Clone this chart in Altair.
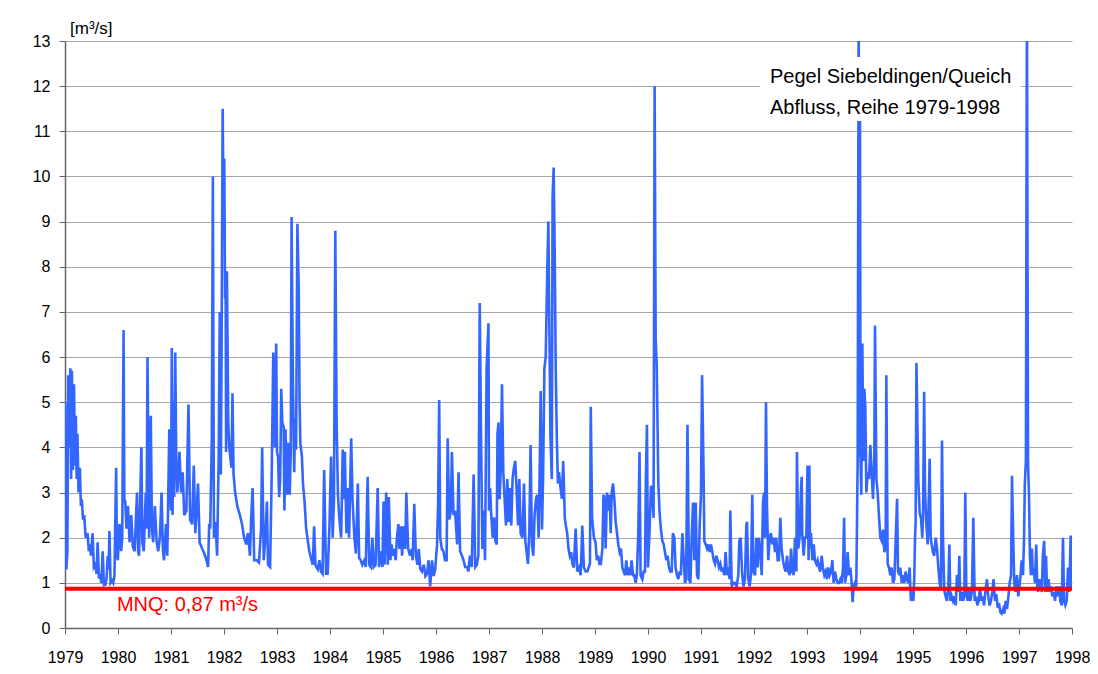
import altair as alt
import pandas as pd

# ---- data (fractional year, discharge m³/s) ----
seg_1979_1980 = [
    (1979.000, 1.5), (1979.005, 5.0), (1979.015, 2.3), (1979.025, 1.3), (1979.045, 1.7), (1979.06, 5.6),
    (1979.075, 4.0), (1979.10, 5.75), (1979.115, 3.3), (1979.13, 5.7), (1979.15, 3.5), (1979.17, 5.4),
    (1979.19, 3.6), (1979.205, 4.7), (1979.22, 3.3), (1979.235, 4.3), (1979.255, 3.0), (1979.28, 3.55),
    (1979.30, 2.7), (1979.317, 2.85), (1979.34, 2.4), (1979.362, 2.5), (1979.39, 2.0), (1979.425, 2.1),
    (1979.45, 1.7), (1979.47, 1.85), (1979.489, 1.6), (1979.52, 2.1), (1979.545, 1.35), (1979.571, 1.4),
    (1979.595, 1.2), (1979.616, 1.9), (1979.64, 1.1), (1979.66, 1.2), (1979.685, 1.0), (1979.711, 1.7),
    (1979.735, 0.95), (1979.762, 0.96), (1979.785, 1.1), (1979.806, 1.6), (1979.825, 1.3), (1979.838, 2.15),
    (1979.86, 1.0), (1979.889, 1.05), (1979.91, 1.0), (1979.933, 1.15), (1979.965, 3.55), (1979.98, 1.6),
    (1979.997, 1.5), (1980.029, 2.3), (1980.06, 1.7), (1980.08, 2.0), (1980.105, 6.6), (1980.12, 2.8),
    (1980.137, 2.8), (1980.16, 2.2), (1980.187, 2.7), (1980.219, 1.9), (1980.25, 2.5), (1980.28, 1.8),
    (1980.314, 1.7), (1980.359, 3.0), (1980.38, 1.7), (1980.397, 1.6), (1980.441, 4.0), (1980.46, 1.9),
    (1980.486, 1.7), (1980.524, 3.0), (1980.54, 2.2), (1980.556, 6.0), (1980.587, 2.0), (1980.619, 4.7),
    (1980.64, 2.2), (1980.663, 1.9), (1980.695, 2.7), (1980.73, 1.9), (1980.759, 1.7), (1980.79, 2.0),
    (1980.822, 3.0), (1980.845, 1.8), (1980.867, 1.5), (1980.905, 2.3), (1980.93, 1.6), (1980.968, 4.4),
    (1980.985, 3.0),
]
seg_1981_1982 = [
    (1981.00, 2.6), (1981.015, 6.2), (1981.03, 2.5), (1981.04, 5.0), (1981.06, 2.9), (1981.08, 6.1),
    (1981.10, 3.7), (1981.12, 3.0), (1981.16, 3.9), (1981.19, 3.0), (1981.22, 3.45), (1981.25, 2.5),
    (1981.29, 2.6), (1981.33, 4.95), (1981.36, 2.4), (1981.40, 2.3), (1981.43, 3.6), (1981.46, 2.1),
    (1981.51, 3.2), (1981.54, 1.9), (1981.59, 1.75), (1981.63, 1.65), (1981.67, 1.5), (1981.70, 1.35),
    (1981.72, 2.3), (1981.74, 2.2), (1981.77, 4.2), (1981.79, 10.0), (1981.81, 2.0), (1981.84, 2.35),
    (1981.87, 1.6), (1981.90, 3.8), (1981.92, 7.0), (1981.94, 3.4), (1981.955, 6.3), (1981.975, 11.5),
    (1981.99, 9.2), (1982.005, 10.4), (1982.02, 7.3), (1982.03, 7.9), (1982.04, 3.9), (1982.055, 7.9),
    (1982.08, 4.55), (1982.10, 4.0), (1982.14, 3.55), (1982.16, 5.2), (1982.18, 3.4), (1982.21, 3.0),
    (1982.25, 2.7), (1982.30, 2.5), (1982.34, 2.3), (1982.38, 2.0), (1982.42, 1.85), (1982.45, 2.1),
    (1982.49, 1.6), (1982.51, 2.35), (1982.54, 3.1), (1982.57, 1.5), (1982.62, 1.5), (1982.66, 1.45),
    (1982.70, 2.2), (1982.72, 4.0), (1982.75, 1.5), (1982.78, 2.0), (1982.81, 2.8), (1982.83, 1.4),
    (1982.87, 1.35), (1982.90, 3.4), (1982.93, 6.1), (1982.96, 4.0), (1982.985, 6.3),
]
seg_1983_1984 = [
    (1983.00, 3.9), (1983.02, 3.8), (1983.04, 2.9), (1983.06, 3.3), (1983.08, 5.3), (1983.10, 4.55),
    (1983.125, 4.45), (1983.14, 2.6), (1983.16, 4.4), (1983.19, 2.95), (1983.21, 4.1), (1983.24, 2.95),
    (1983.26, 3.9), (1983.275, 9.1), (1983.30, 5.5), (1983.325, 3.45), (1983.34, 4.65), (1983.36, 3.95),
    (1983.385, 8.95), (1983.41, 7.5), (1983.425, 5.05), (1983.44, 4.1), (1983.47, 3.8), (1983.49, 3.2),
    (1983.52, 2.8), (1983.55, 2.2), (1983.58, 1.95), (1983.61, 1.7), (1983.64, 1.55), (1983.675, 1.4),
    (1983.70, 2.25), (1983.725, 1.4), (1983.77, 1.3), (1983.80, 1.5), (1983.83, 1.25), (1983.86, 1.2),
    (1983.89, 3.5), (1983.925, 1.2), (1983.955, 1.2), (1983.99, 2.25), (1984.02, 3.8), (1984.05, 2.0),
    (1984.075, 2.85), (1984.10, 8.8), (1984.125, 4.55), (1984.15, 2.95), (1984.175, 2.45), (1984.21, 2.0),
    (1984.24, 3.95), (1984.26, 2.85), (1984.28, 3.9), (1984.31, 2.1), (1984.34, 3.1), (1984.36, 2.0),
    (1984.40, 4.2), (1984.425, 2.85), (1984.46, 2.0), (1984.49, 1.65), (1984.525, 3.2), (1984.55, 1.55),
    (1984.58, 1.5), (1984.61, 1.4), (1984.65, 1.5), (1984.675, 1.35), (1984.71, 3.35), (1984.74, 1.4),
    (1984.77, 1.35), (1984.80, 2.0), (1984.825, 1.35), (1984.86, 1.4), (1984.90, 3.1), (1984.925, 1.35),
    (1984.96, 1.7), (1984.99, 1.35),
]
seg_1985_1986 = [
    (1985.01, 2.8), (1985.03, 1.4), (1985.06, 3.0), (1985.09, 1.4), (1985.11, 2.9), (1985.14, 1.5),
    (1985.16, 1.85), (1985.19, 1.6), (1985.21, 1.75), (1985.24, 1.5), (1985.26, 1.95), (1985.29, 2.3),
    (1985.31, 1.75), (1985.34, 2.25), (1985.36, 1.6), (1985.39, 2.25), (1985.42, 1.75), (1985.44, 3.0),
    (1985.475, 1.75), (1985.51, 1.6), (1985.54, 1.75), (1985.56, 1.5), (1985.59, 2.75), (1985.62, 1.6),
    (1985.65, 1.4), (1985.675, 1.75), (1985.705, 1.3), (1985.735, 1.25), (1985.77, 1.4), (1985.80, 1.15),
    (1985.83, 1.2), (1985.86, 1.5), (1985.89, 0.92), (1985.925, 1.5), (1985.955, 1.15), (1985.985, 1.3),
    (1986.02, 1.85), (1986.04, 2.75), (1986.06, 5.05), (1986.08, 2.0), (1986.11, 1.75), (1986.14, 1.7),
    (1986.17, 1.5), (1986.20, 1.5), (1986.22, 4.2), (1986.25, 2.4), (1986.28, 2.6), (1986.30, 3.9),
    (1986.33, 2.5), (1986.36, 2.6), (1986.40, 1.85), (1986.425, 3.45), (1986.455, 1.7), (1986.49, 1.6),
    (1986.52, 1.5), (1986.55, 1.35), (1986.59, 1.35), (1986.61, 1.25), (1986.64, 1.6), (1986.675, 1.35),
    (1986.71, 3.4), (1986.74, 1.35), (1986.77, 1.4), (1986.80, 1.6), (1986.825, 7.2), (1986.85, 4.2),
    (1986.875, 1.75), (1986.90, 2.6), (1986.925, 1.5), (1986.955, 5.75), (1986.99, 6.75),
]
seg_1987_1988 = [
    (1987.00, 2.6), (1987.02, 3.1), (1987.04, 2.55), (1987.07, 2.0), (1987.095, 2.45), (1987.12, 1.93),
    (1987.145, 1.85), (1987.16, 4.3), (1987.18, 4.55), (1987.20, 2.85), (1987.22, 3.45), (1987.245, 5.4),
    (1987.27, 3.45), (1987.295, 2.85), (1987.32, 2.27), (1987.345, 3.3), (1987.37, 2.35), (1987.395, 3.1),
    (1987.42, 2.27), (1987.445, 3.3), (1987.47, 3.55), (1987.495, 3.7), (1987.52, 3.1), (1987.547, 2.27),
    (1987.572, 3.3), (1987.597, 2.1), (1987.63, 2.0), (1987.66, 3.2), (1987.685, 1.93), (1987.71, 1.68),
    (1987.735, 1.42), (1987.76, 2.1), (1987.785, 4.05), (1987.81, 1.85), (1987.836, 1.6), (1987.86, 2.5),
    (1987.887, 2.86), (1987.91, 2.95), (1987.937, 2.0), (1987.96, 3.8), (1987.975, 5.25), (1988.00, 2.18),
    (1988.02, 3.3), (1988.045, 5.75), (1988.07, 6.0), (1988.10, 7.95), (1988.12, 9.0), (1988.135, 7.1),
    (1988.16, 4.2), (1988.185, 3.3), (1988.20, 9.55), (1988.22, 10.2), (1988.24, 8.3), (1988.26, 5.65),
    (1988.28, 4.2), (1988.30, 3.2), (1988.32, 3.45), (1988.35, 3.1), (1988.375, 2.86), (1988.40, 3.7),
    (1988.43, 2.44), (1988.45, 2.27), (1988.475, 2.1), (1988.50, 1.76), (1988.525, 1.6), (1988.55, 1.68),
    (1988.575, 1.42), (1988.60, 1.34), (1988.635, 2.2), (1988.665, 1.25), (1988.70, 1.34), (1988.73, 1.17),
    (1988.76, 2.27), (1988.79, 1.34), (1988.825, 1.25), (1988.855, 1.25), (1988.88, 1.34), (1988.905, 1.42),
    (1988.92, 4.9), (1988.945, 2.44), (1988.98, 2.0),
]
seg_1989_1990 = [
    (1989.01, 1.9), (1989.035, 1.5), (1989.06, 1.6), (1989.085, 1.42), (1989.11, 1.42), (1989.14, 1.76),
    (1989.16, 2.95), (1989.18, 2.86), (1989.20, 1.76), (1989.226, 3.0), (1989.25, 2.6), (1989.277, 2.95),
    (1989.296, 2.1), (1989.315, 3.0), (1989.34, 3.2), (1989.365, 2.86), (1989.39, 2.35), (1989.415, 2.1),
    (1989.44, 1.85), (1989.465, 1.68), (1989.49, 1.76), (1989.516, 1.34), (1989.54, 1.25), (1989.566, 1.17),
    (1989.59, 1.5), (1989.616, 1.17), (1989.64, 1.34), (1989.667, 1.17), (1989.69, 1.5), (1989.717, 1.17),
    (1989.74, 1.17), (1989.767, 1.0), (1989.79, 1.17), (1989.817, 2.1), (1989.84, 3.9), (1989.86, 1.17),
    (1989.893, 1.08), (1989.918, 1.25), (1989.943, 1.25), (1989.96, 3.3), (1989.98, 4.5), (1990.00, 1.34),
    (1990.03, 2.18), (1990.057, 3.15), (1990.08, 3.0), (1990.105, 2.44), (1990.125, 12.0), (1990.145, 6.4),
    (1990.165, 5.8), (1990.195, 3.2), (1990.22, 2.52), (1990.245, 2.18), (1990.27, 1.93), (1990.296, 1.85),
    (1990.32, 1.68), (1990.346, 1.5), (1990.37, 1.6), (1990.396, 1.34), (1990.42, 1.25), (1990.447, 1.25),
    (1990.47, 2.1), (1990.497, 2.0), (1990.52, 1.34), (1990.547, 1.17), (1990.57, 1.08), (1990.598, 1.25),
    (1990.62, 1.17), (1990.648, 2.1), (1990.67, 1.6), (1990.698, 1.0), (1990.72, 1.08), (1990.745, 4.5),
    (1990.774, 1.08), (1990.80, 1.0), (1990.824, 2.0), (1990.85, 2.78), (1990.875, 1.5), (1990.90, 2.78),
    (1990.925, 1.17), (1990.95, 1.08), (1990.975, 2.27), (1991.00, 2.95),
]
seg_1991_1992 = [
    (1991.02, 5.6), (1991.035, 4.5), (1991.05, 3.3), (1991.063, 1.93), (1991.088, 1.85), (1991.113, 1.76),
    (1991.138, 1.85), (1991.164, 1.68), (1991.189, 1.85), (1991.214, 1.68), (1991.239, 1.5), (1991.264, 1.42),
    (1991.289, 1.6), (1991.314, 1.5), (1991.34, 1.34), (1991.365, 1.42), (1991.39, 1.25), (1991.415, 1.34),
    (1991.44, 1.17), (1991.465, 1.68), (1991.49, 1.17), (1991.516, 1.34), (1991.54, 1.08), (1991.553, 2.6),
    (1991.579, 0.92), (1991.61, 1.0), (1991.64, 1.0), (1991.673, 0.92), (1991.704, 1.17), (1991.723, 1.93),
    (1991.748, 2.0), (1991.774, 1.25), (1991.80, 0.92), (1991.83, 1.08), (1991.855, 2.27), (1991.868, 2.35),
    (1991.893, 1.08), (1991.918, 0.92), (1991.943, 1.17), (1991.968, 2.95), (1991.987, 1.25), (1992.02, 1.17),
    (1992.044, 2.0), (1992.07, 1.34), (1992.094, 2.0), (1992.12, 1.68), (1992.145, 1.17), (1992.17, 2.78),
    (1992.19, 3.0), (1992.208, 2.0), (1992.226, 5.0), (1992.245, 2.7), (1992.27, 1.5), (1992.296, 2.0),
    (1992.32, 2.1), (1992.346, 1.85), (1992.37, 2.0), (1992.396, 1.68), (1992.42, 2.0), (1992.447, 1.5),
    (1992.47, 1.5), (1992.497, 2.44), (1992.52, 1.76), (1992.547, 1.5), (1992.572, 1.34), (1992.597, 1.25),
    (1992.623, 1.6), (1992.648, 1.25), (1992.673, 1.17), (1992.70, 1.76), (1992.723, 1.25), (1992.748, 1.17),
    (1992.774, 2.0), (1992.80, 1.25), (1992.81, 3.9), (1992.836, 1.76), (1992.86, 2.0), (1992.887, 3.1),
    (1992.90, 3.35), (1992.91, 2.1), (1992.937, 1.6), (1992.962, 2.0), (1992.987, 2.0),
]
seg_1993_1994 = [
    (1993.01, 3.6), (1993.03, 1.5), (1993.045, 3.6), (1993.057, 1.76), (1993.075, 2.1), (1993.10, 1.5),
    (1993.126, 1.85), (1993.15, 1.5), (1993.176, 1.42), (1993.20, 1.5), (1993.226, 1.34), (1993.25, 1.25),
    (1993.277, 1.6), (1993.30, 1.34), (1993.327, 1.17), (1993.352, 1.25), (1993.377, 1.08), (1993.40, 1.34),
    (1993.428, 1.17), (1993.453, 1.25), (1993.478, 1.5), (1993.503, 1.0), (1993.528, 1.25), (1993.553, 1.08),
    (1993.579, 1.0), (1993.604, 1.0), (1993.629, 1.08), (1993.654, 1.0), (1993.68, 1.34), (1993.70, 2.44),
    (1993.717, 1.0), (1993.742, 1.17), (1993.767, 1.68), (1993.792, 1.17), (1993.818, 1.34), (1993.843, 1.0),
    (1993.86, 0.57), (1993.88, 0.92), (1993.906, 1.0), (1993.93, 0.92), (1993.956, 3.7), (1993.975, 14.0),
    (1993.99, 3.8), (1994.0, 11.3), (1994.01, 3.7), (1994.025, 2.95), (1994.044, 6.3), (1994.063, 3.7),
    (1994.082, 5.3), (1994.10, 4.9), (1994.12, 3.0), (1994.145, 3.45), (1994.17, 3.3), (1994.195, 4.05),
    (1994.22, 3.45), (1994.245, 2.86), (1994.27, 3.7), (1994.283, 6.7), (1994.31, 3.3), (1994.333, 3.0),
    (1994.36, 2.44), (1994.384, 2.0), (1994.41, 1.93), (1994.434, 2.18), (1994.46, 1.68), (1994.484, 1.76),
    (1994.497, 5.6), (1994.522, 1.42), (1994.547, 1.34), (1994.572, 1.17), (1994.597, 1.34), (1994.623, 1.0),
    (1994.648, 1.08), (1994.673, 1.93), (1994.70, 2.86), (1994.717, 1.25), (1994.742, 1.17), (1994.76, 1.34),
    (1994.786, 1.0), (1994.81, 1.17), (1994.836, 1.0), (1994.86, 1.25), (1994.887, 1.08), (1994.91, 1.0),
    (1994.937, 1.34), (1994.95, 0.83), (1994.962, 0.6), (1994.987, 0.83),
]
seg_1995_1996 = [
    (1995.006, 0.6), (1995.013, 0.75), (1995.025, 1.17), (1995.038, 2.0), (1995.05, 2.35), (1995.065, 5.87),
    (1995.10, 3.3), (1995.126, 2.54), (1995.15, 2.44), (1995.176, 2.0), (1995.19, 2.54), (1995.21, 5.23),
    (1995.226, 3.1), (1995.25, 2.35), (1995.277, 1.85), (1995.30, 2.95), (1995.314, 3.75), (1995.333, 2.0),
    (1995.352, 1.85), (1995.377, 1.68), (1995.40, 1.6), (1995.428, 2.0), (1995.453, 1.76), (1995.478, 1.34),
    (1995.503, 1.0), (1995.528, 0.83), (1995.547, 4.15), (1995.566, 2.0), (1995.59, 0.83), (1995.616, 0.7),
    (1995.64, 0.6), (1995.667, 0.92), (1995.686, 1.85), (1995.704, 0.6), (1995.73, 0.7), (1995.755, 0.6),
    (1995.78, 0.7), (1995.805, 0.5), (1995.83, 1.17), (1995.855, 0.8), (1995.874, 1.6), (1995.893, 0.6),
    (1995.918, 0.8), (1995.943, 0.6), (1995.968, 0.7), (1995.987, 3.0), (1996.006, 0.8), (1996.03, 0.6),
    (1996.057, 0.9), (1996.08, 0.6), (1996.113, 0.8), (1996.138, 2.44), (1996.164, 0.6), (1996.19, 0.7),
    (1996.214, 0.5), (1996.24, 0.6), (1996.264, 0.9), (1996.29, 0.6), (1996.314, 0.7), (1996.34, 0.5),
    (1996.365, 0.8), (1996.396, 1.08), (1996.42, 0.7), (1996.447, 0.5), (1996.47, 0.6), (1996.497, 0.8),
    (1996.52, 1.08), (1996.547, 0.6), (1996.572, 0.75), (1996.597, 0.45), (1996.623, 0.55), (1996.648, 0.35),
    (1996.673, 0.32), (1996.70, 0.42), (1996.723, 0.32), (1996.748, 0.6), (1996.774, 0.42), (1996.80, 0.7),
    (1996.824, 1.0), (1996.85, 1.17), (1996.868, 3.37), (1996.887, 2.2), (1996.91, 1.0), (1996.937, 0.8),
    (1996.962, 1.17), (1996.987, 0.7),
]
seg_1997 = [
    (1997.01, 0.92), (1997.03, 1.17), (1997.05, 1.5), (1997.075, 1.17), (1997.094, 1.93), (1997.11, 3.2),
    (1997.13, 3.7), (1997.15, 14.0), (1997.17, 3.7), (1997.19, 2.86), (1997.206, 1.6), (1997.225, 1.17),
    (1997.244, 1.76), (1997.26, 1.17), (1997.28, 1.34), (1997.30, 1.0), (1997.325, 1.85), (1997.344, 0.92),
    (1997.36, 0.8), (1997.39, 1.08), (1997.406, 0.92), (1997.43, 0.8), (1997.45, 1.6), (1997.475, 1.93),
    (1997.494, 0.8), (1997.51, 1.6), (1997.53, 0.8), (1997.556, 1.08), (1997.58, 0.8), (1997.606, 0.92),
    (1997.63, 0.7), (1997.656, 0.8), (1997.68, 0.6), (1997.706, 0.92), (1997.73, 0.7), (1997.756, 0.92),
    (1997.78, 0.6), (1997.806, 0.5), (1997.83, 2.0), (1997.85, 0.6), (1997.875, 0.5), (1997.90, 0.6),
    (1997.925, 1.34), (1997.95, 0.8), (1997.975, 2.05), (1997.994, 1.0), (1998.0, 0.83),
]

year_ticks = list(range(1979, 1999))
y_ticks = list(range(0, 14))
mnq_value = [0.87]
mnq_label = ["MNQ: 0,87 m\u00b3/s"]
title_lines = ["Pegel Siebeldingen/Queich", "Abfluss, Reihe 1979-1998"]
unit_label = ["[m\u00b3/s]"]

segments = [seg_1979_1980, seg_1981_1982, seg_1983_1984, seg_1985_1986, seg_1987_1988,
            seg_1989_1990, seg_1991_1992, seg_1993_1994, seg_1995_1996, seg_1997]
df = pd.DataFrame([{"t": t, "q": q} for seg in segments for t, q in seg])

FONT = "Liberation Sans"
BLUE = "#3366ff"
RED = "#ff0000"

x_enc = alt.X("t:Q", title=None,
              scale=alt.Scale(domain=[1979, 1998], nice=False, zero=False),
              axis=alt.Axis(values=year_ticks, format="d", grid=False, tickSize=6,
                            labelPadding=15, labelFlush=False, labelOverlap=False))
y_enc = alt.Y("q:Q", title=None,
              scale=alt.Scale(domain=[0, 13], nice=False),
              axis=alt.Axis(values=y_ticks, grid=True, tickSize=6, labelPadding=9))

line = alt.Chart(df).mark_line(color=BLUE, strokeWidth=2.6, clip=True).encode(x=x_enc, y=y_enc)

mnq_rule = alt.Chart(pd.DataFrame({"q": mnq_value})).mark_rule(
    color=RED, strokeWidth=4).encode(y=y_enc)

mnq_text = alt.Chart(pd.DataFrame({"t": [1979.98], "q": [0.5], "label": mnq_label})).mark_text(
    align="left", baseline="middle", color=RED, fontSize=20, font=FONT
).encode(x=x_enc, y=y_enc, text="label:N")

box = alt.Chart(pd.DataFrame({"k": [0]})).mark_rect(color="white", opacity=1).encode(
    x=alt.value(695), x2=alt.value(956), y=alt.value(16), y2=alt.value(80))

title1 = alt.Chart(pd.DataFrame({"label": [title_lines[0]]})).mark_text(
    align="left", baseline="middle", fontSize=20, font=FONT, color="#000000"
).encode(x=alt.value(705), y=alt.value(36), text="label:N")
title2 = alt.Chart(pd.DataFrame({"label": [title_lines[1]]})).mark_text(
    align="left", baseline="middle", fontSize=20, font=FONT, color="#000000"
).encode(x=alt.value(705), y=alt.value(67), text="label:N")

unit = alt.Chart(pd.DataFrame({"label": unit_label})).mark_text(
    align="left", baseline="middle", fontSize=17, font=FONT, color="#000000"
).encode(x=alt.value(5), y=alt.value(-12), text="label:N")

chart = alt.layer(line, mnq_rule, mnq_text, box, title1, title2, unit).properties(
    width=1007, height=587,
    autosize=alt.AutoSizeParams(type="none"),
    padding={"left": 57, "top": 33, "right": 18, "bottom": 38},
).configure_view(stroke=None).configure_axis(
    labelFont=FONT, labelFontSize=16, labelColor="#000000",
    domainColor="#666666", tickColor="#666666", gridColor="#a6a6a6", gridWidth=1,
    domainWidth=1.5,
)

chart.save("out.html", embed_options={"renderer": "svg", "actions": False})
